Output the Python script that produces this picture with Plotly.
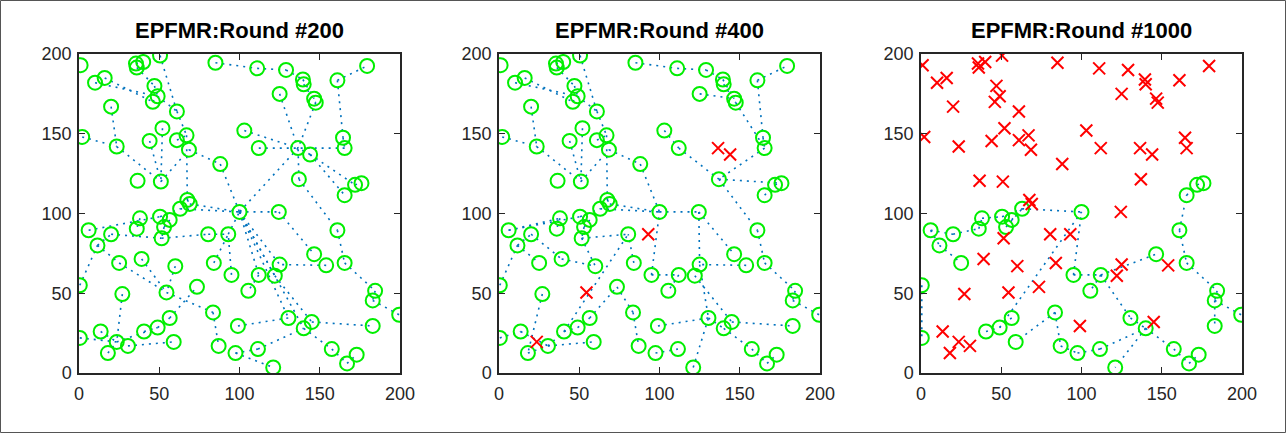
import plotly.graph_objects as go

# ---------------- data ----------------
node_x = [1, 10, 16, 20, 2, 23.5, 35.5, 36, 40, 50.5,
          47, 49, 46, 61, 52, 44, 61, 67, 68.5, 88,
          36.5, 51, 67.5, 69, 85, 111, 129, 139.5, 140, 125,
          146.5, 147.5, 161, 179.5, 103, 112, 136.5, 144, 164.5, 165.5,
          137, 165.5, 172, 176, 100, 124.5, 63, 6, 38, 50.5,
          56.5, 53, 36, 20, 51.5, 80.5, 93, 11.5, 25, 39,
          60, 84, 95, 0.5, 27, 54.5, 73.5, 83.5, 56.5, 49,
          40.5, 0.5, 13.5, 23.5, 30.5, 18, 59, 87, 99, 97.5,
          161, 146.5, 154, 165.5, 125, 122, 112, 105.5, 184.5, 183,
          199.5, 130.5, 145, 140, 183, 111.5, 121, 157.5, 167, 173]
node_y = [193, 182, 185, 167, 148, 142, 194, 191.5, 195, 199,
          180, 173.5, 170, 164, 153.5, 145.5, 146, 149, 140, 131,
          120.5, 120, 108.5, 106, 194.5, 191, 190, 184, 181, 175,
          172, 169.5, 183.5, 192.5, 152, 141, 141, 137, 147.5, 141,
          121.5, 111.5, 118, 119, 101, 101, 103, 89.5, 97, 98,
          96, 91.5, 90.5, 87, 84.5, 87, 87, 80, 69, 71.5,
          67, 69, 61.5, 55, 49.5, 50.5, 54, 38, 34.5, 28.5,
          26, 22, 26, 19.5, 17, 12.5, 19.5, 17, 29.5, 12.5,
          89.5, 74.5, 67.5, 69, 68, 61, 61.5, 51.5, 51.5, 45.5,
          36.5, 34.5, 32, 28, 29.5, 15, 3.5, 15, 6, 11.5]

titles = ["EPFMR:Round #200", "EPFMR:Round #400", "EPFMR:Round #1000"]
tick_vals = [0, 50, 100, 150, 200]

dead_r200 = []
dead_r400 = [37, 38, 57, 66, 74]
dead_r1000 = list(range(1, 42)) + [46, 55, 56, 57, 60, 61, 62, 65, 66, 67,
                                   73, 74, 75, 76, 79, 83, 85, 86, 93]

edges_r200 = [(5, 6), (4, 6), (6, 22), (3, 13), (2, 12), (8, 11), (7, 9), (10, 14),
              (11, 12), (13, 12), (12, 14), (14, 18), (15, 22), (17, 18), (18, 23),
              (19, 20), (20, 45), (24, 45), (23, 24), (16, 22), (22, 19), (25, 26),
              (26, 27), (27, 28), (28, 31), (29, 32), (30, 37), (32, 37), (33, 34),
              (33, 39), (35, 37), (36, 37), (40, 37), (38, 37), (41, 37), (37, 45),
              (38, 43), (38, 42), (43, 44), (41, 81), (45, 46), (45, 85), (45, 86),
              (45, 87), (45, 92), (45, 94), (46, 82), (83, 85), (81, 84), (84, 89),
              (89, 90), (90, 91), (93, 95), (86, 93), (94, 98), (98, 99), (99, 100),
              (87, 88), (96, 94), (80, 97), (80, 96), (63, 57), (48, 50), (50, 47),
              (47, 45), (64, 58), (58, 54), (54, 55), (58, 59), (59, 66), (60, 66),
              (61, 66), (52, 55), (55, 56), (56, 57), (57, 45), (62, 57), (65, 74),
              (72, 74), (73, 74), (76, 74), (74, 70), (75, 77), (71, 70), (70, 69),
              (69, 67), (66, 68), (68, 78), (49, 53), (51, 52), (79, 92), (39, 40)]

edges_r400 = [(5, 6), (4, 6), (6, 22), (3, 13), (2, 12), (8, 11), (7, 9), (10, 14),
              (11, 12), (13, 12), (12, 14), (14, 18), (15, 22), (17, 18), (18, 23),
              (19, 20), (20, 45), (24, 45), (23, 24), (16, 22), (22, 19), (25, 26),
              (26, 27), (27, 28), (28, 31), (29, 32), (30, 31), (32, 40), (33, 34),
              (33, 39), (35, 36), (36, 41), (40, 41), (41, 44), (42, 43), (43, 44),
              (41, 81), (45, 46), (46, 85), (46, 82), (83, 85), (85, 92), (86, 93),
              (63, 87), (81, 84), (84, 89), (89, 90), (90, 91), (93, 95), (94, 98),
              (98, 99), (99, 100), (87, 88), (92, 94), (97, 92), (80, 96), (63, 45),
              (48, 49), (48, 50), (50, 47), (47, 45), (64, 58), (58, 54), (54, 60),
              (60, 61), (55, 61), (58, 59), (52, 55), (55, 56), (62, 56), (71, 56),
              (72, 73), (73, 75), (76, 75), (75, 71), (65, 76), (75, 77), (71, 70),
              (70, 69), (69, 67), (67, 68), (68, 78), (49, 53), (51, 52), (79, 92),
              (39, 40)]

edges_r1000 = [(48, 58), (58, 59), (54, 53), (48, 54), (53, 49), (49, 50), (50, 47),
               (51, 47), (52, 47), (47, 45), (63, 45), (63, 87), (87, 88), (87, 92),
               (87, 82), (92, 94), (94, 97), (94, 98), (98, 99), (99, 100), (96, 94),
               (80, 96), (78, 80), (68, 77), (68, 78), (69, 70), (71, 70), (70, 45),
               (64, 72), (81, 84), (84, 89), (89, 90), (90, 91), (90, 95), (81, 42),
               (42, 43), (43, 44)]

panels = [(edges_r200, dead_r200), (edges_r400, dead_r400), (edges_r1000, dead_r1000)]

# ---------------- layout geometry ----------------
W, H = 1286, 433
ml, mr, mt, mb = 79, 44, 54, 60
pw = W - ml - mr
ph = H - mt - mb
px_domains = [(79, 400), (499, 820), (921, 1242)]
domains = [((a - ml) / pw, (b - ml) / pw) for a, b in px_domains]

LINE_C = "#0072BD"
AX_C = "#262626"

fig = go.Figure()
for k, (edges, dead) in enumerate(panels):
    xa = "x" if k == 0 else f"x{k+1}"
    ya = "y" if k == 0 else f"y{k+1}"
    lx, ly = [], []
    for a, b in edges:
        lx += [node_x[a - 1], node_x[b - 1], None]
        ly += [node_y[a - 1], node_y[b - 1], None]
    fig.add_trace(go.Scatter(x=lx, y=ly, mode="lines", xaxis=xa, yaxis=ya,
                             line=dict(color=LINE_C, width=1.6, dash="2px,5px"),
                             hoverinfo="skip", showlegend=False))
    alive = [i for i in range(1, 101) if i not in dead]
    fig.add_trace(go.Scatter(x=[node_x[i - 1] for i in alive], y=[node_y[i - 1] for i in alive],
                             mode="markers", xaxis=xa, yaxis=ya, showlegend=False,
                             marker=dict(symbol="circle-open", size=14, color="#00ee00",
                                         line=dict(width=2, color="#00ee00"))))
    if dead:
        fig.add_trace(go.Scatter(x=[node_x[i - 1] for i in dead], y=[node_y[i - 1] for i in dead],
                                 mode="markers", xaxis=xa, yaxis=ya, showlegend=False,
                                 marker=dict(symbol="x-thin-open", size=12, color="#ff0000",
                                             line=dict(width=2, color="#ff0000"))))

axis_common = dict(range=[0, 200], tickvals=tick_vals, showgrid=False, zeroline=False,
                   showline=True, mirror="ticks", ticks="inside", ticklen=6,
                   tickcolor=AX_C, linecolor=AX_C, linewidth=1.5,
                   tickfont=dict(family="Liberation Sans, Arial, sans-serif", size=18, color=AX_C))

layout = dict(width=W, height=H, margin=dict(l=ml, r=mr, t=mt, b=mb),
              plot_bgcolor="white", paper_bgcolor="white", showlegend=False)
for k in range(3):
    xs = "xaxis" if k == 0 else f"xaxis{k+1}"
    ys = "yaxis" if k == 0 else f"yaxis{k+1}"
    ya = "y" if k == 0 else f"y{k+1}"
    xa = "x" if k == 0 else f"x{k+1}"
    layout[xs] = dict(axis_common, domain=list(domains[k]), anchor=ya, ticklabelstandoff=4)
    layout[ys] = dict(axis_common, domain=[0, 1], anchor=xa, ticklabelstandoff=2)
fig.update_layout(**layout)

for k in range(3):
    cx = (domains[k][0] + domains[k][1]) / 2
    fig.add_annotation(x=cx, y=1 + (mt - 31) / ph, xref="paper", yref="paper",
                       text=f"<b>{titles[k]}</b>", showarrow=False,
                       xanchor="center", yanchor="middle",
                       font=dict(family="Liberation Sans, Arial, sans-serif", size=22, color="#000000"))

# outer frame of the figure
fig.add_shape(type="rect", xref="paper", yref="paper",
              x0=(-ml + 0.5) / pw, x1=1 + (mr - 0.5) / pw,
              y0=(-mb + 0.5) / ph, y1=1 + (mt - 0.5) / ph,
              line=dict(color="#555555", width=1), fillcolor="rgba(0,0,0,0)", layer="above")

fig.write_html("out.html", config={"displayModeBar": False},
               post_script="document.body.style.margin='0px';document.body.style.overflow='hidden';")
